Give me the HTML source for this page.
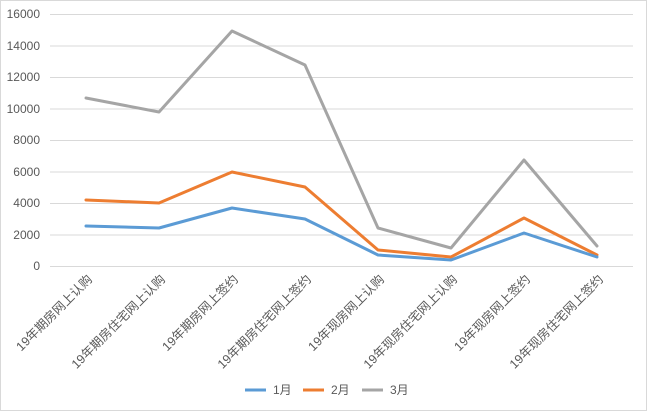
<!DOCTYPE html>
<html><head><meta charset="utf-8"><style>
html,body{margin:0;padding:0;background:#fff}
svg{display:block}
text{font-family:"Liberation Sans","Noto Sans CJK SC",sans-serif;fill:#595959}
</style></head><body>
<svg width="647" height="411" viewBox="0 0 647 411">
<rect x="0.5" y="0.5" width="646" height="410" fill="#fff" stroke="#d9d9d9"/>
<g stroke="#d9d9d9" stroke-width="1">
<line x1="50" x2="633" y1="266.5" y2="266.5"/>
<line x1="50" x2="633" y1="235" y2="235"/>
<line x1="50" x2="633" y1="203.5" y2="203.5"/>
<line x1="50" x2="633" y1="172" y2="172"/>
<line x1="50" x2="633" y1="140.5" y2="140.5"/>
<line x1="50" x2="633" y1="109" y2="109"/>
<line x1="50" x2="633" y1="77.5" y2="77.5"/>
<line x1="50" x2="633" y1="46" y2="46"/>
<line x1="50" x2="633" y1="14.5" y2="14.5"/>
</g>
<g font-size="12" text-anchor="end">
<text x="40" y="270">0</text>
<text x="40" y="239">2000</text>
<text x="40" y="207">4000</text>
<text x="40" y="176">6000</text>
<text x="40" y="144">8000</text>
<text x="40" y="113">10000</text>
<text x="40" y="81">12000</text>
<text x="40" y="50">14000</text>
<text x="40" y="18">16000</text>
</g>
<g font-size="12.5" text-anchor="end">
<text transform="translate(93,280) rotate(-45)">19年期房网上认购</text>
<text transform="translate(166,280) rotate(-45)">19年期房住宅网上认购</text>
<text transform="translate(239,280) rotate(-45)">19年期房网上签约</text>
<text transform="translate(312,280) rotate(-45)">19年期房住宅网上签约</text>
<text transform="translate(385,280) rotate(-45)">19年现房网上认购</text>
<text transform="translate(458,280) rotate(-45)">19年现房住宅网上认购</text>
<text transform="translate(531,280) rotate(-45)">19年现房网上签约</text>
<text transform="translate(604,280) rotate(-45)">19年现房住宅网上签约</text>
</g>
<g fill="none" stroke-width="3" stroke-linejoin="round" stroke-linecap="round">
<polyline stroke="#A5A5A5" points="86,98 159,112 232,31 305,65 378,228 451,248 524,160 597,246"/>
<polyline stroke="#ED7D31" points="86,200 159,203 232,172 305,187 378,250 451,257 524,218 597,255"/>
<polyline stroke="#5B9BD5" points="86,226 159,228 232,208 305,219 378,255 451,260 524,233 597,257"/>
</g>
<g font-size="12">
<line x1="245" x2="266" y1="390" y2="390" stroke="#5B9BD5" stroke-width="3"/>
<text x="273" y="394">1月</text>
<line x1="303" x2="324" y1="390" y2="390" stroke="#ED7D31" stroke-width="3"/>
<text x="331" y="394">2月</text>
<line x1="362" x2="383" y1="390" y2="390" stroke="#A5A5A5" stroke-width="3"/>
<text x="390" y="394">3月</text>
</g>
</svg>
</body></html>
